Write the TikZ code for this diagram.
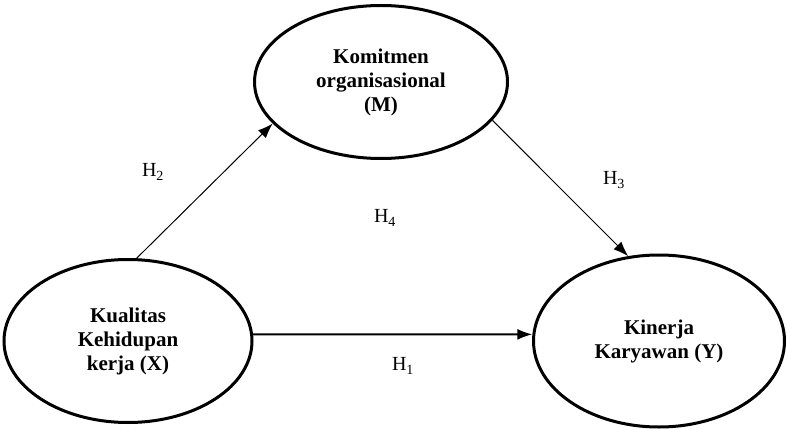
\documentclass[tikz,border=0pt]{standalone}
\usepackage{fontspec}
\setmainfont{Liberation Serif}
\usepackage{tikz}
\usetikzlibrary{shapes.geometric,arrows.meta}

\begin{document}
\begin{tikzpicture}[x=1pt,y=1pt,
  var/.style={draw,ellipse,line width=3pt,inner sep=0pt,align=center,
    font=\fontsize{21}{24}\selectfont\bfseries},
  hyp/.style={font=\fontsize{20}{23}\selectfont},
  tip/.style={-{Latex[length=15pt,width=11pt]}}]
\useasboundingbox (0,0) rectangle (787,429);

\node [var,minimum width=253,minimum height=153] (M) at(381,347){Komitmen\\organisasional\\(M)};
\node [var,minimum width=248,minimum height=163] (X) at(128,88){Kualitas\\Kehidupan\\kerja (X)};
\node [var,minimum width=251,minimum height=172] (Y) at(659,88){Kinerja\\Karyawan (Y)};

\node [hyp] (h2) at(153,257){H\textsubscript{2}};
\node [hyp] (h4) at(385,211){H\textsubscript{4}};
\node [hyp] (h3) at(614,249){H\textsubscript{3}};
\node [hyp] (h1) at(403,63){H\textsubscript{1}};

\draw[tip,line width=1pt](X.84) -- (M.201);
\draw[tip,line width=1pt](M.341) -- (Y.110);
\draw[tip,line width=2pt](X.3) -- (Y.177);

\end{tikzpicture}
\end{document}
